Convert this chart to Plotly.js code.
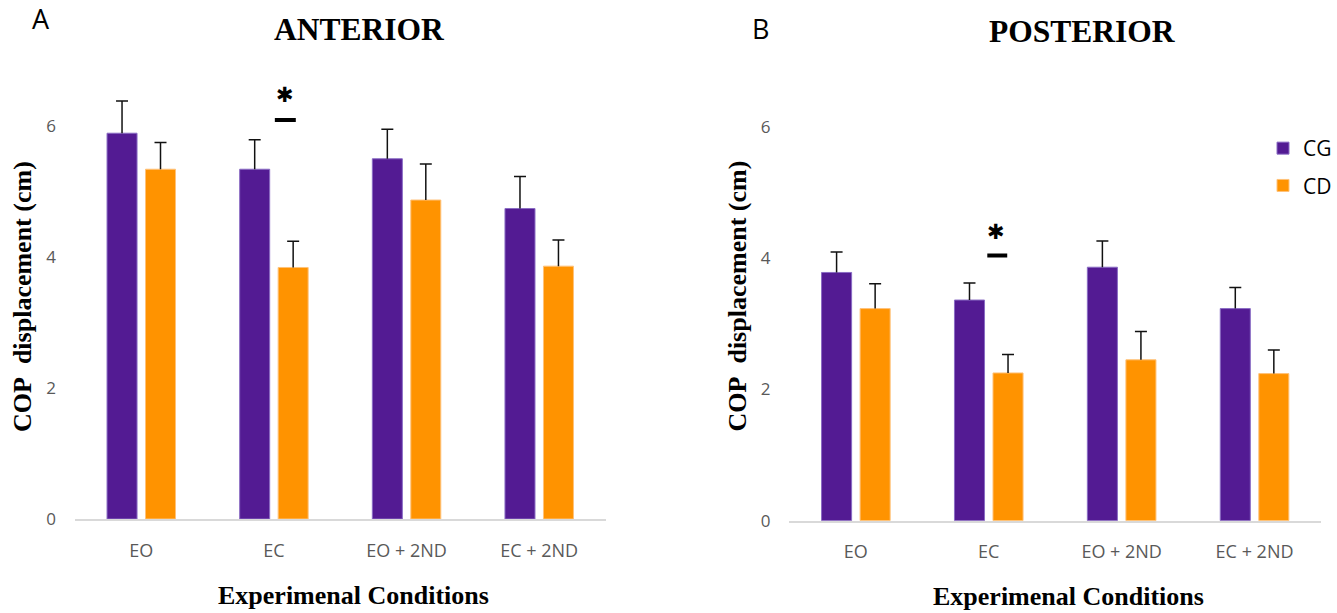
<!DOCTYPE html>
<html>
<head>
<meta charset="utf-8">
<script src="https://cdn.plot.ly/plotly-3.0.1.min.js"></script>
<style>html,body{margin:0;padding:0;background:#fff;}#chart{width:1337px;height:613px;}</style>
</head>
<body>
<div id="chart"></div>
<script>
// ---- data ----
const categories = ['EO', 'EC', 'EO + 2ND', 'EC + 2ND'];
const seriesNames = ['CG', 'CD'];
const anteriorCG = [5.89, 5.34, 5.50, 4.74];
const anteriorCGErr = [0.49, 0.45, 0.45, 0.49];
const anteriorCD = [5.34, 3.84, 4.87, 3.86];
const anteriorCDErr = [0.41, 0.40, 0.55, 0.40];
const posteriorCG = [3.78, 3.36, 3.86, 3.23];
const posteriorCGErr = [0.31, 0.26, 0.40, 0.32];
const posteriorCD = [3.23, 2.25, 2.45, 2.24];
const posteriorCDErr = [0.38, 0.28, 0.43, 0.36];
const yTicks = [0, 2, 4, 6];
const panelTitles = ['ANTERIOR', 'POSTERIOR'];
const panelLetters = ['A', 'B'];
const yTitle = 'COP\u00A0\u00A0displacement (cm)';
const xTitle = 'Experimenal Conditions';
// significance marks: category, star height, bar height (data units)
const sigCategory = 'EC';
const sigStarY = [6.47, 4.40];
const sigLineY = [6.09, 4.04];

// ---- style ----
const purple = '#531B93';
const orange = '#FF9300';
const W = 1337, H = 613;
const tickFont = {family: 'Open Sans, sans-serif', size: 18, color: '#595959'};
const yTickFont = {family: 'Open Sans, sans-serif', size: 17, color: '#595959'};
const serifBold = {family: 'Liberation Serif, Times New Roman, serif', size: 26, color: '#000'};

function errCfg(arr) {
  return {type: 'data', array: arr, arrayminus: arr.map(() => 0), symmetric: false,
          color: '#111', thickness: 1.5, width: 6};
}
function barTrace(name, y, err, color, lineColor, xa, ya, show) {
  return {type: 'bar', name: name, x: categories, y: y, xaxis: xa, yaxis: ya,
          marker: {color: color, line: {color: lineColor, width: 1}},
          error_y: errCfg(err), showlegend: show, legendgroup: name, hoverinfo: 'skip'};
}

const data = [
  barTrace(seriesNames[0], anteriorCG, anteriorCGErr, purple, '#8a6cc4', 'x', 'y', true),
  barTrace(seriesNames[1], anteriorCD, anteriorCDErr, orange, '#ffc27a', 'x', 'y', true),
  barTrace(seriesNames[0], posteriorCG, posteriorCGErr, purple, '#8a6cc4', 'x2', 'y2', false),
  barTrace(seriesNames[1], posteriorCD, posteriorCDErr, orange, '#ffc27a', 'x2', 'y2', false)
];

function xAxis(domain, anchor) {
  return {domain: domain, anchor: anchor, type: 'category', showgrid: false, zeroline: false,
          showline: true, linecolor: '#d9d9d9', linewidth: 2, ticks: '', tickfont: tickFont,
          ticklabelstandoff: 14, fixedrange: true};
}
function yAxis(domain, anchor) {
  return {domain: domain, anchor: anchor, range: [0, 7], showgrid: false, zeroline: false,
          showline: false, ticks: '', tickvals: yTicks, ticktext: yTicks.map(String),
          tickfont: yTickFont, ticklabelstandoff: 18, fixedrange: true};
}

const px = v => v / W;
const py = v => 1 - v / H;

const annotations = [
  {text: panelLetters[0], xref: 'paper', yref: 'paper', x: px(41), y: py(19), showarrow: false,
   xanchor: 'center', yanchor: 'middle', font: {family: 'Open Sans, sans-serif', size: 27, color: '#000'}},
  {text: panelLetters[1], xref: 'paper', yref: 'paper', x: px(761), y: py(29), showarrow: false,
   xanchor: 'center', yanchor: 'middle', font: {family: 'Open Sans, sans-serif', size: 27, color: '#000'}},
  {text: '<b>' + panelTitles[0] + '</b>', xref: 'paper', yref: 'paper', x: px(360), y: py(30), showarrow: false,
   xanchor: 'center', yanchor: 'middle', font: Object.assign({}, serifBold, {size: 31.5})},
  {text: '<b>' + panelTitles[1] + '</b>', xref: 'paper', yref: 'paper', x: px(1083), y: py(32), showarrow: false,
   xanchor: 'center', yanchor: 'middle', font: Object.assign({}, serifBold, {size: 31.5})},
  {text: '<b>' + yTitle + '</b>', xref: 'paper', yref: 'paper', x: px(22), y: py(296), showarrow: false,
   textangle: -90, xanchor: 'center', yanchor: 'middle', font: serifBold},
  {text: '<b>' + yTitle + '</b>', xref: 'paper', yref: 'paper', x: px(738), y: py(296), showarrow: false,
   textangle: -90, xanchor: 'center', yanchor: 'middle', font: serifBold},
  {text: '<b>' + xTitle + '</b>', xref: 'paper', yref: 'paper', x: px(354), y: py(595), showarrow: false,
   xanchor: 'center', yanchor: 'middle', font: serifBold},
  {text: '<b>' + xTitle + '</b>', xref: 'paper', yref: 'paper', x: px(1069), y: py(596), showarrow: false,
   xanchor: 'center', yanchor: 'middle', font: serifBold},
  {text: '\u2731', xref: 'x', yref: 'y', x: sigCategory, y: sigStarY[0], xshift: 11, showarrow: false,
   font: {family: 'DejaVu Sans', size: 21, color: '#000'}},
  {text: '\u2731', xref: 'x2', yref: 'y2', x: sigCategory, y: sigStarY[1], xshift: 7.5, showarrow: false,
   font: {family: 'DejaVu Sans', size: 21, color: '#000'}}
];

const sigIdx = categories.indexOf(sigCategory);
const shapes = [
  {type: 'line', xref: 'x', yref: 'y', x0: sigIdx + 0.007, x1: sigIdx + 0.165, y0: sigLineY[0], y1: sigLineY[0],
   line: {color: '#000', width: 4}},
  {type: 'line', xref: 'x2', yref: 'y2', x0: sigIdx - 0.011, x1: sigIdx + 0.139, y0: sigLineY[1], y1: sigLineY[1],
   line: {color: '#000', width: 4}}
];

const layout = {
  width: W, height: H, autosize: false,
  margin: {l: 0, r: 0, t: 0, b: 0, pad: 0},
  paper_bgcolor: '#fff', plot_bgcolor: '#fff',
  barmode: 'group', bargap: 0.42, bargroupgap: 0.22,
  xaxis: xAxis([px(75), px(606)], 'y'),
  yaxis: yAxis([1 - 519 / H, 1 - 60.5 / H], 'x'),
  xaxis2: xAxis([px(790), px(1322)], 'y2'),
  yaxis2: yAxis([1 - 520.7 / H, 1 - 61 / H], 'x2'),
  showlegend: true,
  legend: {x: px(1264), y: py(128), xanchor: 'left', yanchor: 'top', bgcolor: 'rgba(0,0,0,0)',
           font: {family: 'Open Sans, sans-serif', size: 21, color: '#000'},
           traceorder: 'grouped', tracegroupgap: 7, itemclick: false, itemdoubleclick: false},
  annotations: annotations,
  shapes: shapes
};

Plotly.newPlot('chart', data, layout, {displayModeBar: false, staticPlot: true}).then(gd => {
  // remove the lower cap of one-sided error bars (plus direction only)
  gd.querySelectorAll('g.errorbar path').forEach(p => {
    const d = p.getAttribute('d');
    if (d) p.setAttribute('d', d.replace(/m-[\d.]+,0h[\d.]+$/, ''));
  });
});
</script>
</body>
</html>
